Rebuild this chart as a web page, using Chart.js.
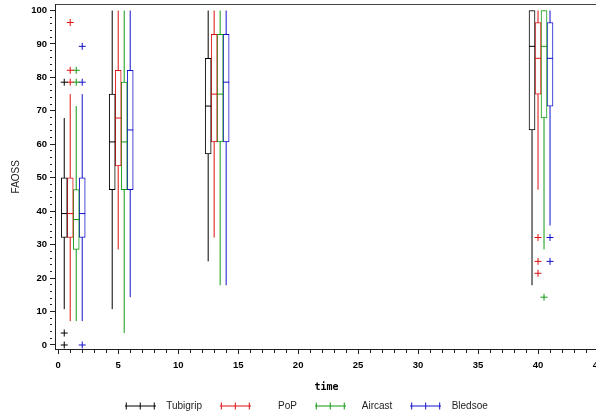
<!DOCTYPE html>
<html><head><meta charset="utf-8">
<script src="https://cdn.jsdelivr.net/npm/chart.js@4.4.1/dist/chart.umd.min.js"></script>
<style>html,body{margin:0;padding:0;overflow:hidden;background:#fff;width:596px;height:416px}canvas{display:block}</style>
</head><body>
<canvas id="c" width="623" height="421"></canvas>
<script>
// ---- data ----
const timepoints = [1, 5, 13, 40];
const seriesNames = ['Tubigrip', 'PoP', 'Aircast', 'Bledsoe'];
const seriesDodge = [-0.5, 0, 0.5, 1];          // horizontal dodge (time units) of each series
const xMajorTicks = [0, 5, 10, 15, 20, 25, 30, 35, 40, 45];
const yMajorTicks = [0, 10, 20, 30, 40, 50, 60, 70, 80, 90, 100];

// one row per series (Tubigrip, PoP, Aircast, Bledsoe), one value per timepoint
const whiskerLow  = [[10.71, 10.71, 25.00, 17.86], [7.14, 28.57, 32.14, 46.43], [7.14, 3.57, 17.86, 28.57], [7.14, 14.29, 17.86, 35.71]];
const quartile1   = [[32.14, 46.43, 57.14, 64.29], [32.14, 53.57, 60.71, 75.00], [28.57, 46.43, 60.71, 67.86], [32.14, 46.43, 60.71, 71.43]];
const medians     = [[39.29, 60.71, 71.43, 89.29], [39.29, 67.86, 75.00, 85.71], [37.50, 60.71, 75.00, 89.29], [39.29, 64.29, 78.57, 85.71]];
const quartile3   = [[50.00, 75.00, 85.71, 100.0], [50.00, 82.14, 92.86, 96.43], [46.43, 78.57, 92.86, 100.0], [50.00, 82.14, 92.86, 96.43]];
const whiskerHigh = [[67.86, 100.0, 100.0, 100.0], [75.00, 100.0, 100.0, 100.0], [71.43, 100.0, 100.0, 100.0], [75.00, 100.0, 100.0, 100.0]];
const outlierTubigrip = [[78.57, 3.57, 0], [], [], []];
const outlierPoP      = [[96.43, 82.14, 78.57], [], [], [32.14, 25.00, 21.43]];
const outlierAircast  = [[82.14, 78.57], [], [], [14.29]];
const outlierBledsoe  = [[89.29, 78.57, 0], [], [], [32.14, 25.00]];
const outliers = [outlierTubigrip, outlierPoP, outlierAircast, outlierBledsoe];

const colors = ['#000000', '#dd1111', '#119911', '#1111cc'];
const legendText = ['Tubigrip   ', '      PoP   ', '  Aircast   ', 'Bledsoe'];

// ---- legend symbol: line with three plus marks ----
function makeSymbol(color) {
  const cv = document.createElement('canvas');
  cv.width = 31; cv.height = 9;
  const g = cv.getContext('2d');
  g.strokeStyle = color; g.lineWidth = 1;
  g.beginPath();
  g.moveTo(0, 4.5); g.lineTo(31, 4.5);
  [1.5, 15.5, 29.5].forEach(px => { g.moveTo(px, 1); g.lineTo(px, 8); });
  g.stroke();
  return cv;
}
const symbols = colors.map(makeSymbol);

// ---- datasets ----
const datasets = [];
seriesNames.forEach((name, s) => {
  const xs = timepoints.map(t => t + seriesDodge[s]);
  const whiskers = [];
  xs.forEach((x, i) => {
    whiskers.push({x, y: whiskerLow[s][i]}, {x, y: whiskerHigh[s][i]}, {x, y: null});
  });
  datasets.push({
    type: 'line', label: name + ' whisker', data: whiskers,
    borderColor: colors[s], borderWidth: 1, pointRadius: 0, pointHoverRadius: 0,
    spanGaps: false, tension: 0, fill: false, order: 4
  });
  datasets.push({
    type: 'bar', label: name, data: xs.map((x, i) => ({x, y: [quartile1[s][i], quartile3[s][i]]})),
    backgroundColor: '#ffffff', borderColor: colors[s], borderWidth: 1, borderSkipped: false,
    grouped: false, barPercentage: 1, categoryPercentage: 1, maxBarThickness: 6, order: 3
  });
  datasets.push({
    type: 'scatter', label: name + ' median', data: xs.map((x, i) => ({x, y: medians[s][i]})),
    pointStyle: 'line', pointRadius: 3, pointHoverRadius: 3, borderColor: colors[s], borderWidth: 1, order: 2
  });
  const out = [];
  xs.forEach((x, i) => outliers[s][i].forEach(v => out.push({x, y: v})));
  datasets.push({
    type: 'scatter', label: name + ' outliers', data: out,
    pointStyle: 'cross', pointRadius: 3.5, pointHoverRadius: 3.5, borderColor: colors[s], backgroundColor: colors[s], borderWidth: 1, order: 1
  });
});

const xMin = -0.27, xMax = 45, yMin = -1.2, yMax = 101.8;
const xAllTicks = [], yAllTicks = [];
for (let v = 0; v <= xMax; v += 1) xAllTicks.push(v);
for (let v = 0; v <= 100; v += 2) yAllTicks.push(v);
const tickFont = {family: 'Liberation Sans', size: 9.5, weight: 'bold'};

new Chart(document.getElementById('c'), {
  type: 'scatter',
  data: {datasets},
  options: {
    responsive: false, animation: false, devicePixelRatio: 1,
    layout: {padding: {left: 9, right: 25, top: 3, bottom: 0}},
    plugins: {
      tooltip: {enabled: false},
      legend: {
        position: 'bottom',
        labels: {
          usePointStyle: true, pointStyleWidth: 42, padding: 4,
          font: {family: 'Liberation Sans', size: 10}, color: '#222',
          generateLabels: () => seriesNames.map((n, i) => ({
            text: legendText[i], pointStyle: symbols[i], fillStyle: colors[i], strokeStyle: colors[i],
            lineWidth: 0, hidden: false, datasetIndex: i * 4, fontColor: '#222'
          }))
        }
      }
    },
    scales: {
      x: {
        type: 'linear', position: 'bottom', min: xMin, max: xMax, offset: false,
        afterBuildTicks: s => { s.ticks = xAllTicks.map(v => ({value: v})); },
        afterFit: s => { s.height = 48; s.paddingLeft = 0; s.paddingRight = 0; },
        grid: {display: true, drawOnChartArea: false, offset: false, tickLength: 5, tickColor: '#222', tickWidth: 1,
          tickBorderDash: c => (xMajorTicks.includes(c.tick.value) ? [] : [3, 20])},
        border: {display: true, color: '#222', width: 1},
        ticks: {autoSkip: false, maxRotation: 0, padding: 6, font: tickFont, color: '#000',
          callback: v => (xMajorTicks.includes(v) ? String(v) : '')},
        title: {display: true, text: 'time', color: '#000', font: {family: 'DejaVu Sans Mono', size: 10, weight: 'bold'}, padding: {top: 2, bottom: 4}}
      },
      xTop: {
        type: 'linear', position: 'top', min: xMin, max: xMax, display: true,
        afterFit: s => { s.height = 0; s.paddingLeft = 0; s.paddingRight = 0; },
        grid: {display: true, drawOnChartArea: false, drawTicks: false},
        border: {display: true, color: '#444', width: 1},
        ticks: {display: false}
      },
      y: {
        type: 'linear', position: 'left', min: yMin, max: yMax,
        afterBuildTicks: s => { s.ticks = yAllTicks.map(v => ({value: v})); },
        afterFit: s => { s.width = 46; s.paddingTop = 0; s.paddingBottom = 0; },
        grid: {display: true, drawOnChartArea: false, tickLength: 5, tickColor: '#222', tickWidth: 1,
          tickBorderDash: c => (yMajorTicks.includes(c.tick.value) ? [] : [2, 20])},
        border: {display: true, color: '#222', width: 1},
        ticks: {autoSkip: false, padding: 3, font: tickFont, color: '#000',
          callback: v => (yMajorTicks.includes(v) ? String(v) : '')},
        title: {display: true, text: 'FAOSS', color: '#222', font: {family: 'Liberation Sans', size: 10}, padding: {top: 1, bottom: 4}}
      }
    }
  }
});
</script>
</body></html>
